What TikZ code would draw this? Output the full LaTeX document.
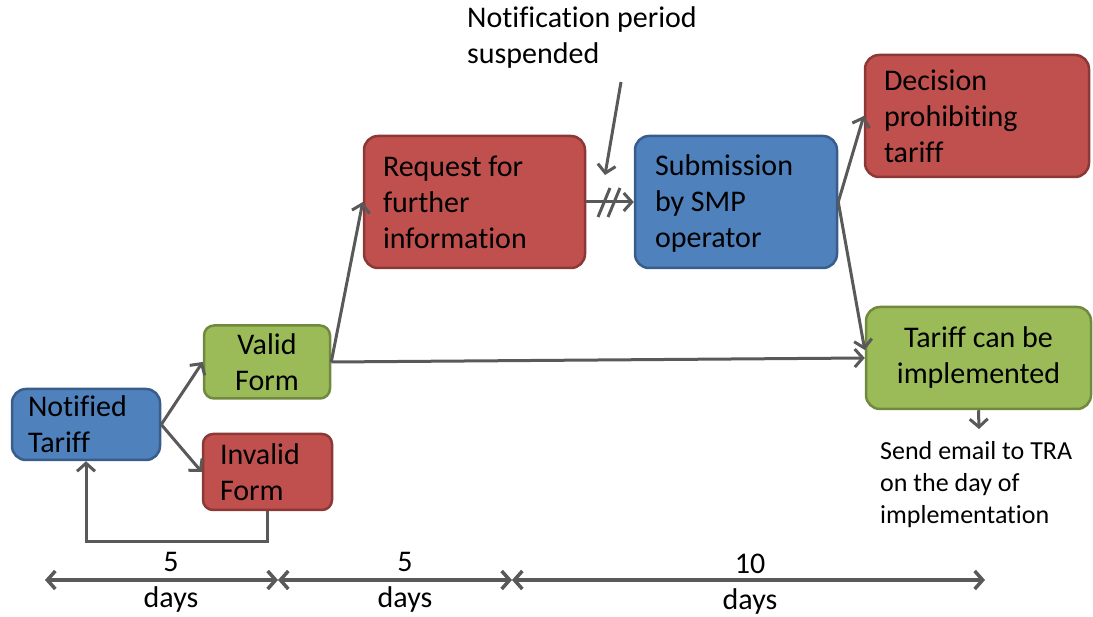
\documentclass[tikz,border=0pt]{standalone}
\usepackage{fontspec}
\setmainfont{Carlito}[Ligatures=NoCommon]
\usetikzlibrary{arrows.meta,calc}
\definecolor{bfill}{HTML}{4F81BD}\definecolor{bdraw}{HTML}{385D8A}
\definecolor{rfill}{HTML}{C0504D}\definecolor{rdraw}{HTML}{8C3836}
\definecolor{gfill}{HTML}{9BBB59}\definecolor{gdraw}{HTML}{71893F}
\definecolor{conn}{HTML}{595959}
\tikzset{
  box/.style={rounded corners=14pt, line width=2.5pt, inner sep=0pt,
    font=\fontsize{30}{36}\selectfont, text=black},
  bluebox/.style={box, fill=bfill, draw=bdraw},
  redbox/.style={box, fill=rfill, draw=rdraw},
  greenbox/.style={box, fill=gfill, draw=gdraw},
  arr/.style={draw=conn, line width=3pt, -{Straight Barb[length=8pt,width=18pt]}},
  dbl/.style={draw=conn, line width=3.5pt, {Straight Barb[length=8pt,width=18pt]}-{Straight Barb[length=8pt,width=18pt]}},
  plain/.style={draw=conn, line width=3pt},
  lbl/.style={inner sep=0pt, font=\fontsize{30}{36}\selectfont, text=black}
}
\begin{document}
\begin{tikzpicture}[x=1pt,y=-1pt]
\path[use as bounding box] (0,0) rectangle (1093,617);
% boxes
\node[bluebox, minimum width=148pt, minimum height=71pt] (nt) at (86,424.5)
  {\parbox{116pt}{\raggedright Notified\\Tariff}};
\node[greenbox, rounded corners=10pt, minimum width=126pt, minimum height=73pt] (vf) at (267,362)
  {\parbox{110pt}{\centering Valid\\Form}};
\node[redbox, rounded corners=10pt, minimum width=129pt, minimum height=76pt] (if) at (267.5,472)
  {\parbox{95pt}{\raggedright Invalid\\Form}};
\node[redbox, minimum width=221pt, minimum height=132pt] (rq) at (474.5,202)
  {\parbox{183pt}{\raggedright Request for\\further\\information}};
\node[bluebox, minimum width=202pt, minimum height=132pt] (sb) at (736,202)
  {\parbox{162pt}{\raggedright\vspace*{3pt} Submission\\by SMP\\operator}};
\node[redbox, minimum width=224pt, minimum height=122pt] (dp) at (977,116)
  {\parbox{186pt}{\raggedright Decision\\prohibiting\\tariff}};
\node[greenbox, minimum width=225pt, minimum height=102pt] (tc) at (978.5,358)
  {\parbox{200pt}{\centering Tariff can be\\implemented}};
% free texts
\node[lbl, anchor=west, align=left] (np) at (467,38) {Notification period\\suspended};
\node[inner sep=0pt, anchor=west, align=left, font=\fontsize{26}{32}\selectfont] (se) at (880,485)
  {Send email to TRA\\on the day of\\implementation};
\coordinate (npS) at (621,82);
\coordinate (npE) at (605,175);
\coordinate (seT) at (979,429);
% connectors
\draw[arr] (nt.east) -- (vf.west);
\draw[arr] (nt.east) -- (if.west);
\draw[arr] (if.south) -- ++(0,30) -| (nt.south);
\draw[arr] (vf.east) -- (rq.west);
\draw[arr] (vf.east) -- (tc.west);
\draw[arr] (rq.east) -- (sb.west);
\draw[plain] (598,217) -- (610,188);
\draw[plain] (608,217) -- (620,188);
\draw[arr] (npS) -- (npE);
\draw[arr] (sb.east) -- (dp.west);
\draw[arr] (sb.east) -- ($(tc.west)+(0,-8)$);
\draw[arr] (tc.south) -- (seT);
% timeline
\coordinate (t0) at (45,580);
\coordinate (t1) at (278,580);
\coordinate (t2) at (512,580);
\coordinate (t3) at (985,580);
\draw[dbl] (t0) -- (t1);
\draw[dbl] (t1) -- (t2);
\draw[dbl] (t2) -- (t3);
\node[lbl] (l1a) at (171,562) {5};
\node[lbl] (l1b) at (171,600) {days};
\node[lbl] (l2a) at (405,562) {5};
\node[lbl] (l2b) at (405,600) {days};
\node[lbl] (l3a) at (750,564) {10};
\node[lbl] (l3b) at (750,602) {days};
\end{tikzpicture}
\end{document}
